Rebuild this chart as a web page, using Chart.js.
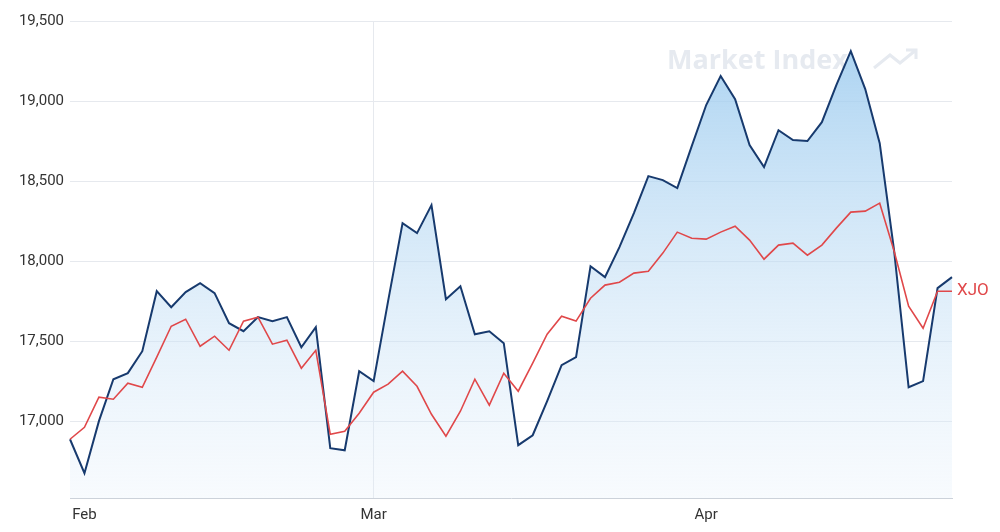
<!DOCTYPE html>
<html><head><meta charset="utf-8">
<script src="https://cdn.jsdelivr.net/npm/chart.js@4"></script>
<style>html,body{margin:0;background:#fff}#w{width:1000px;height:532px}</style>
</head><body><div id="w"><canvas id="c"></canvas></div>
<script>
const monthLabels = {1:'Feb',21:'Mar',44:'Apr'};
const indexValues = [16887,16675,17000,17262,17300,17437,17812,17712,17806,17862,17800,17612,17562,17650,17625,17650,17462,17587,16831,16818,17312,17250,17750,18237,18175,18350,17762,17843,17543,17562,17487,16850,16912,17125,17350,17400,17968,17900,18087,18300,18531,18506,18456,18718,18975,19156,19012,18725,18587,18818,18756,18750,18868,19100,19312,19075,18737,18062,17212,17250,17831,17900];
const xjoValues = [16887,16962,17150,17137,17237,17212,17400,17593,17637,17468,17531,17443,17625,17650,17481,17506,17331,17443,16918,16937,17050,17181,17231,17312,17218,17043,16906,17062,17262,17100,17300,17187,17362,17543,17656,17625,17768,17850,17868,17925,17937,18050,18181,18143,18137,18181,18218,18131,18012,18100,18112,18037,18100,18206,18306,18312,18362,18062,17718,17581,17812,17812];
const labels = indexValues.map((v,i)=>monthLabels[i]||'');
const font = {family:'Roboto', size:15};
const extras = {id:'extras', beforeDraw(ch){
  const c=ch.ctx, a=ch.chartArea;
  c.save(); c.font='bold 27px "Open Sans"'; c.fillStyle='#e6eaf0'; c.textBaseline='middle';
  c.fillText('Market Index', a.right-285, 61);
  c.strokeStyle='#e6eaf0'; c.lineWidth=3; c.beginPath();
  c.moveTo(a.right-78,68);c.lineTo(a.right-62,55);c.lineTo(a.right-52,63);c.lineTo(a.right-36,50);
  c.moveTo(a.right-46,50);c.lineTo(a.right-36,50);c.lineTo(a.right-36,59);c.stroke(); c.restore();
}, afterDraw(ch){
  const c=ch.ctx, m=ch.getDatasetMeta(1), p=m.data[m.data.length-1];
  c.save(); c.font='17px Roboto'; c.fillStyle='#e0484a'; c.textBaseline='middle';
  c.fillText('XJO', p.x+5, p.y); c.restore();
}};
new Chart(document.getElementById('c'),{type:'line',
 data:{labels, datasets:[
  {data:indexValues, order:2, borderColor:'#173a6e', borderWidth:2, pointRadius:0, tension:0, fill:'start',
   backgroundColor(ctx){const a=ctx.chart.chartArea; if(!a) return 'rgba(0,0,0,0)';
     const g=ctx.chart.ctx.createLinearGradient(0,a.top,0,a.bottom);
     g.addColorStop(0,'rgba(150,200,238,0.85)'); g.addColorStop(1,'rgba(225,238,250,0.25)'); return g;}},
  {data:xjoValues, order:1, borderColor:'#e0484a', borderWidth:1.6, pointRadius:0, tension:0, fill:false}
 ]},
 options:{responsive:true, maintainAspectRatio:false, animation:false,
  layout:{padding:{top:21,right:48,bottom:0,left:0}},
  plugins:{legend:{display:false}, tooltip:{enabled:false}},
  scales:{
   x:{offset:false, border:{display:true,color:'#ccd2da'},
      grid:{color:(c)=>labels[c.index]?'#e6e9ee':'rgba(0,0,0,0)', drawTicks:false},
      ticks:{autoSkip:false, maxRotation:0, color:'#333', font, padding:8, callback:(v,i)=>labels[i]||null}},
   y:{min:16520, max:19500, border:{display:false},
      afterBuildTicks(s){s.ticks=[17000,17500,18000,18500,19000,19500].map(v=>({value:v}));},
      afterFit(s){s.width=70;},
      grid:{color:'#e6e9ee', drawTicks:false},
      ticks:{color:'#333', font, padding:6, callback:v=>v.toLocaleString('en-US')}}
  }},
 plugins:[extras]});
</script></body></html>
